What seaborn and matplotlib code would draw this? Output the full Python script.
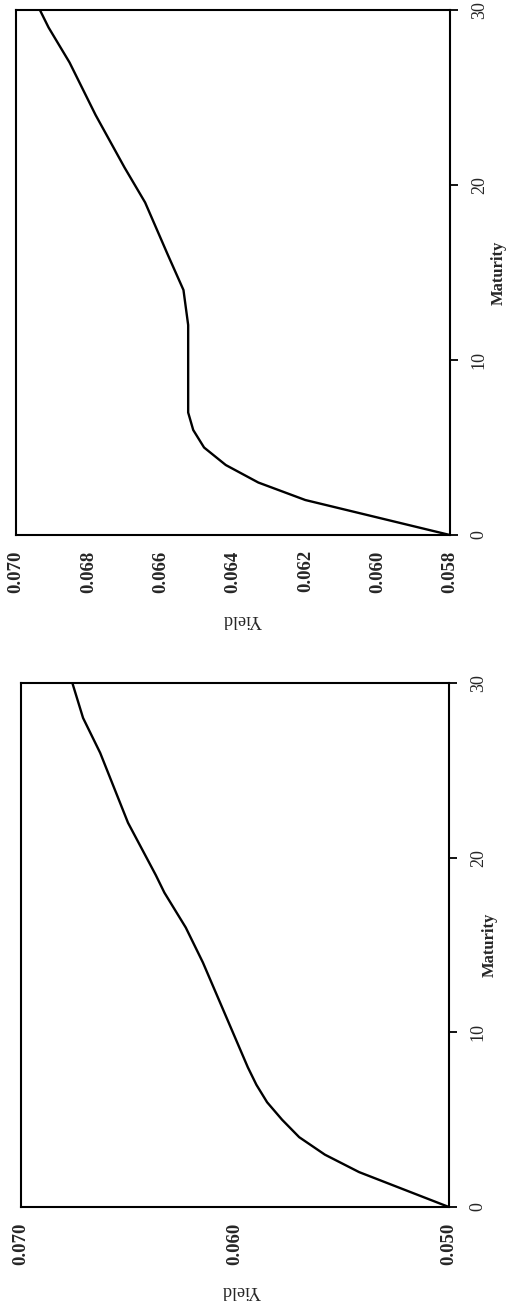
import pandas as pd
import matplotlib.pyplot as plt
import seaborn as sns
from matplotlib.ticker import MultipleLocator, FormatStrFormatter

# the scanned page is turned on its side: maturity runs up the page,
# yield runs right-to-left, so draw it that way directly

# upper panel (yield 0.058 - 0.070)
mat_a = [0, 1, 2, 3, 4, 5, 6, 7, 12, 14, 16, 19, 21, 24, 27, 29, 30]
yld_a = [0.0580, 0.0600, 0.0620, 0.0633, 0.0642, 0.0648, 0.0651, 0.06524,
         0.06524, 0.06537, 0.0658, 0.06643, 0.0670, 0.0678, 0.06852, 0.0691, 0.06934]

# lower panel (yield 0.050 - 0.070)
mat_b = [0, 2, 3, 4, 5, 6, 7, 8, 10, 12, 14, 15, 16, 17, 18, 19, 22, 26, 28, 30]
yld_b = [0.0500, 0.0542, 0.0558, 0.0570, 0.0578, 0.0585, 0.0590, 0.0594, 0.0601, 0.0608,
         0.0615, 0.0619, 0.0623, 0.0628, 0.0633, 0.0637, 0.0650, 0.0663, 0.0671, 0.0676]

mat_ticks = [0, 10, 20, 30]

sns.set_style("white")
plt.rcParams['font.family'] = ['Liberation Serif', 'DejaVu Serif']

fig = plt.figure(figsize=(5.15, 13.12), dpi=100)
ax_a = fig.add_axes([0.0311, 0.5922, 0.8427, 0.4002])
ax_b = fig.add_axes([0.0408, 0.0800, 0.8310, 0.3994])

panels = [
    (ax_a, mat_a, yld_a, (0.070, 0.058), 0.002, 0.001, 0.521, 1.112),
    (ax_b, mat_b, yld_b, (0.070, 0.050), 0.010, None, 0.516, 1.095),
]

for ax, mat, yld, xlim, major, minor, ylab_x, mlab_x in panels:
    df = pd.DataFrame({'maturity': mat, 'yield': yld})
    sns.lineplot(data=df, x='yield', y='maturity', sort=False, estimator=None,
                 color='black', linewidth=1.7, ax=ax)
    ax.set_xlim(*xlim)
    ax.set_ylim(0, 30)
    ax.xaxis.set_major_locator(MultipleLocator(major))
    if minor:
        ax.xaxis.set_minor_locator(MultipleLocator(minor))
    ax.xaxis.set_major_formatter(FormatStrFormatter('%.3f'))
    ax.set_yticks(mat_ticks)
    ax.yaxis.tick_right()
    ax.yaxis.set_label_position('right')

    for s in ax.spines.values():
        s.set_color('black')
        s.set_linewidth(1.5)

    ax.tick_params(axis='x', which='major', direction='out', length=4, width=1.3,
                   pad=7, labelsize=13.5, labelrotation=90, color='black')
    ax.tick_params(axis='x', which='minor', direction='out', length=2.5, width=1.0,
                   color='black')
    ax.tick_params(axis='y', which='major', direction='out', length=6, width=1.3,
                   pad=9, labelsize=13, labelrotation=90, color='black',
                   right=True, left=False)
    for lab in ax.get_xticklabels():
        lab.set_fontweight('bold')
    for lab in ax.get_yticklabels():
        lab.set_va('center')

    ax.set_xlabel('Yield', fontsize=13, rotation=180, va='center', ha='center')
    ax.xaxis.set_label_coords(ylab_x, -0.16)
    ax.set_ylabel('Maturity', fontsize=12, fontweight='bold', rotation=90,
                  va='center', ha='center')
    ax.yaxis.set_label_coords(mlab_x, 0.5)

fig.savefig('out.png', dpi=100, facecolor='white')
